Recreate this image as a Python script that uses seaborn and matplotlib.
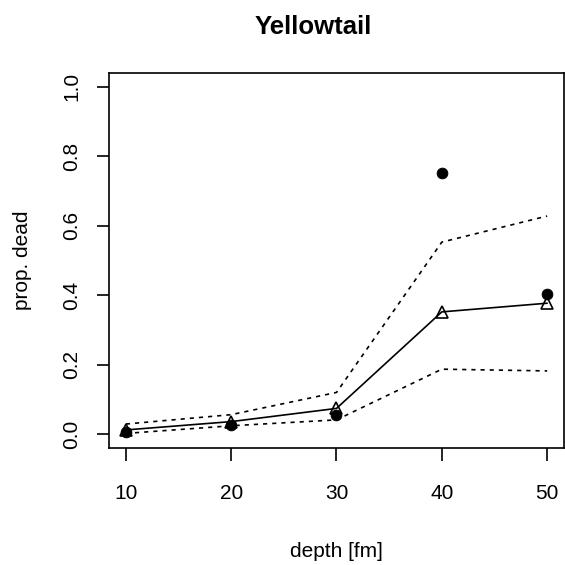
import matplotlib
matplotlib.use("Agg")
import matplotlib.pyplot as plt
import seaborn as sns
import pandas as pd

depth = [10, 20, 30, 40, 50]
observed = [0.005, 0.025, 0.056, 0.751, 0.404]
predicted = [0.012, 0.036, 0.074, 0.352, 0.377]
upper = [0.029, 0.056, 0.120, 0.553, 0.628]
lower = [0.002, 0.024, 0.041, 0.187, 0.182]
xticks = [10, 20, 30, 40, 50]
yticks = [0.0, 0.2, 0.4, 0.6, 0.8, 1.0]

df = pd.DataFrame({"depth": depth, "observed": observed, "predicted": predicted,
                   "upper": upper, "lower": lower})

sns.set_style("white")
plt.rcParams["font.family"] = ["Liberation Sans", "DejaVu Sans"]
plt.rcParams["text.color"] = "black"
plt.rcParams["axes.labelcolor"] = "black"
plt.rcParams["xtick.color"] = "black"
plt.rcParams["ytick.color"] = "black"

fig = plt.figure(figsize=(5.65, 5.65), dpi=100)
ax = fig.add_axes([109/565, 1-448/565, (564-109)/565, (448-73)/565])

sns.lineplot(data=df, x="depth", y="upper", ax=ax, color="black", lw=1.2,
             linestyle=(0, (2.5, 3)))
sns.lineplot(data=df, x="depth", y="lower", ax=ax, color="black", lw=1.2,
             linestyle=(0, (2.5, 3)))
sns.lineplot(data=df, x="depth", y="predicted", ax=ax, color="black", lw=1.2)
sns.scatterplot(data=df, x="depth", y="observed", ax=ax, color="black", s=60,
                marker="o", edgecolor="black", zorder=5)
ax.plot(df["depth"], df["predicted"], linestyle="none", marker="^", ms=9,
        mfc="none", mec="black", mew=1.2, zorder=6)

ax.set_xlim(8.4, 51.6)
ax.set_ylim(-0.04, 1.04)
ax.set_xticks(xticks)
ax.set_xticklabels([str(t) for t in xticks])
ax.set_yticks(yticks)
ax.set_yticklabels([f"{t:.1f}" for t in yticks], rotation=90, va="center")
ax.tick_params(axis="both", direction="out", length=9, width=1.2, labelsize=15,
               color="black", labelcolor="black", bottom=True, left=True)
ax.tick_params(axis="x", pad=17)
ax.tick_params(axis="y", pad=11)
for s in ax.spines.values():
    s.set_visible(True)
    s.set_color("black")
    s.set_linewidth(1.2)
ax.set_xlabel("depth [fm]", fontsize=15, labelpad=28, color="black")
ax.set_ylabel("prop. dead", fontsize=15, labelpad=22, color="black")
fig.text(313/565, 1-27/565, "Yellowtail", fontsize=18.5, fontweight="bold",
         ha="center", va="center", color="black")

fig.savefig("out.png", dpi=100)
